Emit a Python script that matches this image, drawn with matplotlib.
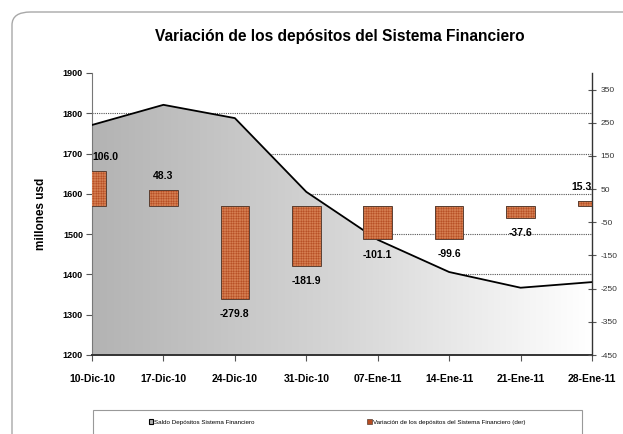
import numpy as np
import matplotlib
matplotlib.use('Agg')
import matplotlib.pyplot as plt
from matplotlib.patches import FancyBboxPatch, Rectangle, Patch

plt.rcParams['font.family'] = ['Liberation Sans', 'DejaVu Sans']
plt.rcParams['hatch.linewidth'] = 0.3
plt.rcParams['axes.unicode_minus'] = False

# datos
fechas = ['10-Dic-10', '17-Dic-10', '24-Dic-10', '31-Dic-10',
          '07-Ene-11', '14-Ene-11', '21-Ene-11', '28-Ene-11']
saldo = [1771, 1821, 1788, 1605, 1486, 1406, 1367, 1381]
variacion = [106.0, 48.3, -279.8, -181.9, -101.1, -99.6, -37.6, 15.3]

W, H = 623, 434
fig = plt.figure(figsize=(W / 100, H / 100), dpi=100)

# marco redondeado exterior
marco = FancyBboxPatch((12 / W, -0.2), 1.2, 1 - 12 / H + 0.2,
                       boxstyle='round,pad=0,rounding_size=0.03',
                       transform=fig.transFigure, fill=False,
                       edgecolor='#a8a8a8', linewidth=1.0)
fig.patches.append(marco)

ax = fig.add_axes([92 / W, 1 - 355 / H, 500 / W, 282 / H])
ax2 = ax.twinx()

x = np.arange(len(fechas))

# area con degradado
ax.set_xlim(0, len(fechas) - 1)
ax.set_ylim(1200, 1900)
poly = ax.fill_between(x, saldo, 1200, facecolor='none', edgecolor='none', zorder=2)
grad = np.linspace(0, 1, 256).reshape(1, -1)
cmap = matplotlib.colors.LinearSegmentedColormap.from_list('g', ['#b3b3b3', '#d6d6d6', '#ffffff'])
img = ax.imshow(grad, extent=[0, len(fechas) - 1, 1200, 1900], aspect='auto',
                cmap=cmap, zorder=2, origin='lower')
img.set_clip_path(poly.get_paths()[0], transform=ax.transData)
ax.plot(x, saldo, color='black', linewidth=1.3, zorder=3)

ax.set_yticks(np.arange(1200, 1901, 100))
for yv in range(1300, 1900, 100):
    ax.axhline(yv, linestyle=(0, (1, 1)), color='#555555', linewidth=0.8, zorder=1)
ax.set_xticks(x)
ax.set_xticklabels(fechas, fontsize=7.5, fontweight='bold')
ax.tick_params(axis='x', direction='out', length=4, width=0.8, color='#555555', pad=10)
ax.tick_params(axis='y', direction='out', length=4, width=0.8, color='#555555', labelsize=6.5, pad=2.5)
for t in ax.get_yticklabels():
    t.set_fontweight('bold')
ax.set_ylabel('millones usd', fontsize=8.5, fontweight='bold', labelpad=11)

for s in ['top', 'right']:
    ax.spines[s].set_visible(False)
ax.spines['left'].set_color('#777777')
ax.spines['bottom'].set_color('#333333')
ax.spines['bottom'].set_linewidth(1.4)

# barras en eje derecho
ax2.set_ylim(-450, 400)
ax2.set_yticks(np.arange(-450, 351, 100))
ax2.bar(x, variacion, width=0.4, color='#b54c22', edgecolor='#dc8a5c',
        hatch='+' * 10, linewidth=0, zorder=3)
ax2.bar(x, variacion, width=0.4, fill=False, edgecolor='#5a3f32', linewidth=0.7, zorder=4)
ax2.tick_params(axis='y', direction='inout', length=6, width=0.8, color='#555555',
                labelsize=6, labelcolor='#333333', pad=3)
for s in ['top', 'left', 'bottom']:
    ax2.spines[s].set_visible(False)
ax2.spines['right'].set_color('#333333')
ax2.spines['right'].set_linewidth(1.0)

# etiquetas de datos
for i, v in enumerate(variacion):
    off = 10 if v > 0 else -11
    ha = 'center'
    xi = i
    if i == 0:
        ha = 'left'
        xi = 0.0
    elif i == len(variacion) - 1:
        ha = 'right'
        xi = len(variacion) - 1
    ax2.annotate('{:.1f}'.format(v), (xi, v), xytext=(0, off), textcoords='offset points',
                 ha=ha, va='center', fontsize=7.5, fontweight='bold', zorder=5)

fig.text(340 / W, 1 - 37 / H, 'Variación de los depósitos del Sistema Financiero',
         ha='center', va='center', fontsize=11.2, fontweight='bold')

# leyenda
caja = Rectangle((93 / W, -0.1), 489 / W, 0.1 + 1 - 410 / H, transform=fig.transFigure,
                 fill=False, edgecolor='#999999', linewidth=0.8)
fig.patches.append(caja)
handles = [Patch(facecolor='#b0b0b0', edgecolor='black', linewidth=0.8),
           Patch(facecolor='#b54c22', edgecolor='#5a3f32', linewidth=0.5)]
fig.legend(handles, ['Saldo Depósitos Sistema Financiero',
                     'Variación de los depósitos del Sistema Financiero (der)'],
           loc='center', bbox_to_anchor=(337 / W, 1 - 422 / H), ncol=2, frameon=False,
           fontsize=4.5, handlelength=0.7, handleheight=0.7, handletextpad=0.2,
           columnspacing=18)

fig.savefig('out.png', dpi=100)
